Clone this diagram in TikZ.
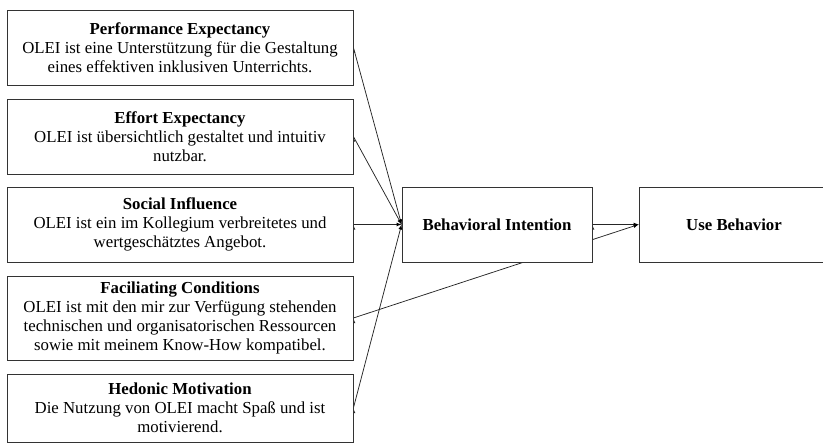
\documentclass[tikz,border=0pt]{standalone}
\usepackage{fontspec}
\setmainfont{Liberation Serif}
\usepackage{tikz}
\usetikzlibrary{arrows,backgrounds}

\begin{document}
\begin{tikzpicture}[x=1pt,y=-1pt,
    factor/.style={draw=black!80,line width=0.8pt,fill=white,align=center,
      minimum width=346pt,inner sep=0pt,font=\fontsize{16.8}{18.8}\selectfont},
    outcome/.style={draw=black!80,line width=0.8pt,fill=white,align=center,
      minimum width=190pt,minimum height=75pt,inner sep=0pt,
      font=\fontsize{16.8}{18.8}\selectfont\bfseries},
    link/.style={-latex,draw=black!85,line width=0.75pt}]
  \useasboundingbox (0,0) rectangle (823,443);
      \draw (180,47.5) node[factor,minimum height=75pt] (pe) {\textbf{Performance Expectancy}\\OLEI ist eine Unterstützung für die Gestaltung\\eines effektiven inklusiven Unterrichts.};
      \draw (180,136.5) node[factor,minimum height=75pt] (ee) {\textbf{Effort Expectancy}\\OLEI ist übersichtlich gestaltet und intuitiv\\nutzbar.};
      \draw (180,224.5) node[factor,minimum height=75pt] (si) {\textbf{Social Influence}\\OLEI ist ein im Kollegium  verbreitetes und\\wertgeschätztes Angebot.};
      \draw (180,318) node[factor,minimum height=84pt] (fc) {\textbf{Faciliating Conditions}\\OLEI ist mit den mir zur Verfügung  stehenden\\technischen und organisatorischen Ressourcen\\sowie mit meinem Know-How kompatibel.};
      \draw (180,408) node[factor,minimum height=68pt] (hm) {\textbf{Hedonic Motivation}\\Die Nutzung von OLEI macht Spaß und ist\\motivierend.};
  \draw (497,224.5) node[outcome] (bi) {Behavioral Intention};
  \draw (734,224.5) node[outcome] (ub) {Use Behavior};
  \begin{scope}[on background layer]
      \path[link] (pe.east) edge (bi.west);
      \path[link] (ee.east) edge (bi.west);
      \path[link] (si.east) edge (bi.west);
      \path[link] (hm.east) edge (bi.west);
      \path[link] (fc.east) edge (ub.west);
      \path[link] (bi.east) edge (ub.west);
  \end{scope}
\end{tikzpicture}
\end{document}
